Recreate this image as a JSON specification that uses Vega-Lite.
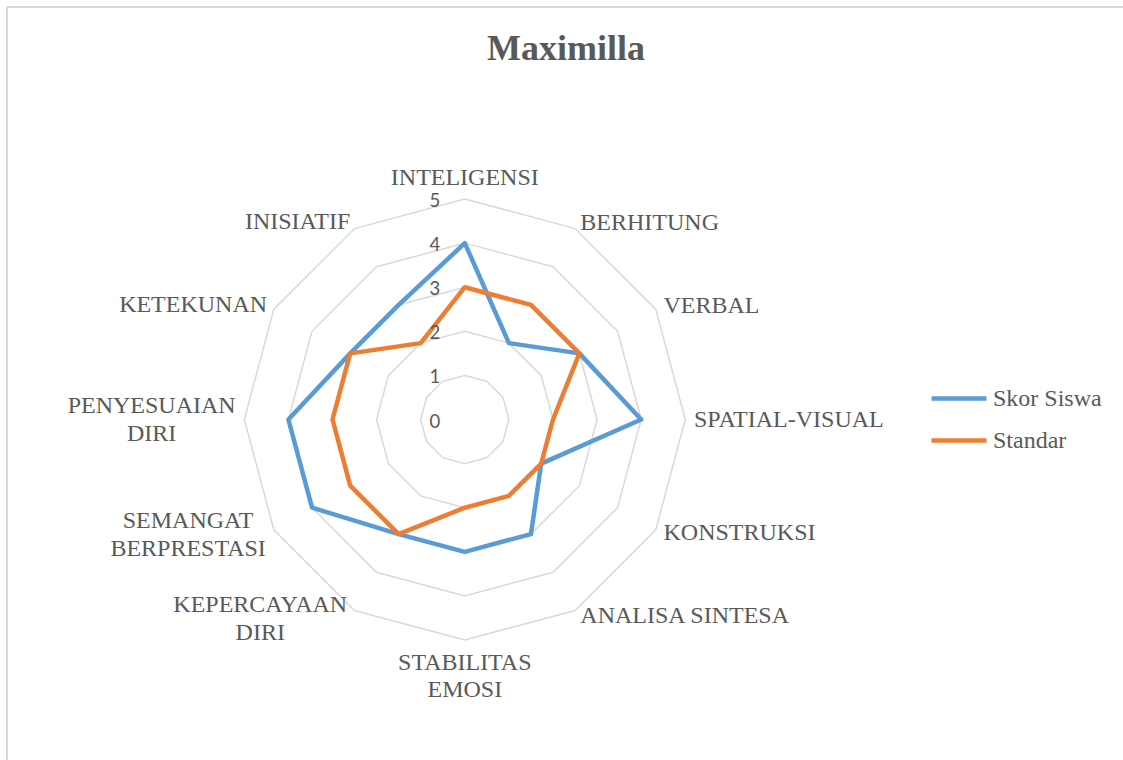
{
  "$schema": "https://vega.github.io/schema/vega-lite/v6.json",
  "autosize": {"type": "none"},
  "padding": {"left": 7, "top": 7, "right": 0, "bottom": 0},
  "width": 1116,
  "height": 753,
  "background": "white",
  "config": {
    "view": {"stroke": "#d9d9d9", "strokeWidth": 2, "strokeDash": [1116, 1869, 753, 0]},
    "legend": {"labelFont": "Liberation Serif", "labelFontSize": 24, "labelColor": "#595959", "symbolType": "stroke", "symbolSize": 3025, "symbolStrokeWidth": 4.5, "labelOffset": 4, "padding": 0}
  },
  "title": {"text": "Maximilla", "font": "Liberation Serif", "fontSize": 36, "fontWeight": "bold", "color": "#595959", "anchor": "start", "frame": "group", "baseline": "alphabetic", "offset": -54, "dy": 35, "dx": 480},
  "data": {"values": [
    {"aspek": "INTELIGENSI", "urut": 0, "Skor Siswa": 4, "Standar": 3},
    {"aspek": "BERHITUNG", "urut": 1, "Skor Siswa": 2, "Standar": 3},
    {"aspek": "VERBAL", "urut": 2, "Skor Siswa": 3, "Standar": 3},
    {"aspek": "SPATIAL-VISUAL", "urut": 3, "Skor Siswa": 4, "Standar": 2},
    {"aspek": "KONSTRUKSI", "urut": 4, "Skor Siswa": 2, "Standar": 2},
    {"aspek": "ANALISA SINTESA", "urut": 5, "Skor Siswa": 3, "Standar": 2},
    {"aspek": "STABILITAS EMOSI", "urut": 6, "Skor Siswa": 3, "Standar": 2},
    {"aspek": "KEPERCAYAAN DIRI", "urut": 7, "Skor Siswa": 3, "Standar": 3},
    {"aspek": "SEMANGAT BERPRESTASI", "urut": 8, "Skor Siswa": 4, "Standar": 3},
    {"aspek": "PENYESUAIAN DIRI", "urut": 9, "Skor Siswa": 4, "Standar": 3},
    {"aspek": "KETEKUNAN", "urut": 10, "Skor Siswa": 3, "Standar": 3},
    {"aspek": "INISIATIF", "urut": 11, "Skor Siswa": 3, "Standar": 2}
  ]},
  "transform": [{"calculate": "datum.urut * PI / 6", "as": "sudut"}],
  "encoding": {
    "x": {"field": "px", "type": "quantitative", "axis": null, "scale": {"domain": [-10.381, 14.925], "nice": false, "zero": false}},
    "y": {"field": "py", "type": "quantitative", "axis": null, "scale": {"domain": [-7.721, 9.354], "nice": false, "zero": false}}
  },
  "layer": [
    {
      "transform": [
        {"calculate": "[1,2,3,4,5]", "as": "tingkat"},
        {"flatten": ["tingkat"]},
        {"calculate": "datum.tingkat * sin(datum.sudut)", "as": "px"},
        {"calculate": "datum.tingkat * cos(datum.sudut)", "as": "py"}
      ],
      "mark": {"type": "line", "interpolate": "linear-closed", "stroke": "#d9d9d9", "strokeWidth": 1.5},
      "encoding": {"detail": {"field": "tingkat", "type": "nominal"}, "order": {"field": "urut", "type": "quantitative"}}
    },
    {
      "transform": [
        {"fold": ["Skor Siswa", "Standar"], "as": ["seri", "nilai"]},
        {"calculate": "datum.nilai * sin(datum.sudut)", "as": "px"},
        {"calculate": "datum.nilai * cos(datum.sudut)", "as": "py"}
      ],
      "mark": {"type": "line", "interpolate": "linear-closed", "strokeWidth": 4.5, "strokeJoin": "round"},
      "encoding": {
        "color": {"field": "seri", "type": "nominal", "scale": {"domain": ["Skor Siswa", "Standar"], "range": ["#5b9bd5", "#ed7d31"]},
          "legend": {"title": null, "orient": "none", "legendX": 922, "legendY": 361.5, "padding": 0, "symbolType": "stroke", "symbolSize": 3025, "symbolStrokeWidth": 4.5, "labelFont": "Liberation Serif", "labelFontSize": 24, "labelColor": "#595959", "labelOffset": 4, "rowPadding": 0}},
        "order": {"field": "urut", "type": "quantitative"}
      }
    },
    {
      "transform": [
        {"filter": "datum.urut == 0"},
        {"calculate": "[0,1,2,3,4,5]", "as": "tingkat"},
        {"flatten": ["tingkat"]},
        {"calculate": "datum.tingkat * sin(datum.sudut)", "as": "px"},
        {"calculate": "datum.tingkat * cos(datum.sudut)", "as": "py"}
      ],
      "mark": {"type": "text", "font": "Lato", "fontSize": 18.5, "color": "#595959", "align": "center", "baseline": "alphabetic", "dx": -30, "dy": 8},
      "encoding": {"text": {"field": "tingkat", "type": "quantitative"}}
    },
    {
      "transform": [
        {"filter": "datum.urut == 0"},
        {"calculate": "5.15 * sin(datum.sudut)", "as": "px"},
        {"calculate": "5.15 * cos(datum.sudut)", "as": "py"}
      ],
      "mark": {"type": "text", "font": "Liberation Serif", "fontSize": 24, "color": "#595959", "align": "center", "baseline": "alphabetic", "dy": -7},
      "encoding": {"text": {"field": "aspek", "type": "nominal"}}
    },
    {
      "transform": [
        {"filter": "datum.urut >= 1 && datum.urut <= 5"},
        {"calculate": "5.15 * sin(datum.sudut)", "as": "px"},
        {"calculate": "5.15 * cos(datum.sudut)", "as": "py"}
      ],
      "mark": {"type": "text", "font": "Liberation Serif", "fontSize": 24, "color": "#595959", "align": "left", "baseline": "alphabetic", "dx": 2, "dy": 7},
      "encoding": {"text": {"field": "aspek", "type": "nominal"}}
    },
    {
      "transform": [
        {"filter": "datum.urut == 6"},
        {"calculate": "5.15 * sin(datum.sudut)", "as": "px"},
        {"calculate": "5.15 * cos(datum.sudut)", "as": "py"}
      ],
      "mark": {"type": "text", "font": "Liberation Serif", "fontSize": 24, "color": "#595959", "align": "center", "baseline": "alphabetic", "dy": 23, "lineBreak": " ", "lineHeight": 27.5},
      "encoding": {"text": {"field": "aspek", "type": "nominal"}}
    },
    {
      "transform": [
        {"filter": "datum.urut == 7"},
        {"calculate": "5.15 * sin(datum.sudut)", "as": "px"},
        {"calculate": "5.15 * cos(datum.sudut)", "as": "py"}
      ],
      "mark": {"type": "text", "font": "Liberation Serif", "fontSize": 24, "color": "#595959", "align": "center", "baseline": "alphabetic", "dx": -91, "dy": -4, "lineBreak": " ", "lineHeight": 27.5},
      "encoding": {"text": {"field": "aspek", "type": "nominal"}}
    },
    {
      "transform": [
        {"filter": "datum.urut == 8"},
        {"calculate": "5.15 * sin(datum.sudut)", "as": "px"},
        {"calculate": "5.15 * cos(datum.sudut)", "as": "py"}
      ],
      "mark": {"type": "text", "font": "Liberation Serif", "fontSize": 24, "color": "#595959", "align": "center", "baseline": "alphabetic", "dx": -80, "dy": -5, "lineBreak": " ", "lineHeight": 27.5},
      "encoding": {"text": {"field": "aspek", "type": "nominal"}}
    },
    {
      "transform": [
        {"filter": "datum.urut == 9"},
        {"calculate": "5.15 * sin(datum.sudut)", "as": "px"},
        {"calculate": "5.15 * cos(datum.sudut)", "as": "py"}
      ],
      "mark": {"type": "text", "font": "Liberation Serif", "fontSize": 24, "color": "#595959", "align": "center", "baseline": "alphabetic", "dx": -86, "dy": -6.5, "lineBreak": " ", "lineHeight": 27.5},
      "encoding": {"text": {"field": "aspek", "type": "nominal"}}
    },
    {
      "transform": [
        {"filter": "datum.urut >= 10"},
        {"calculate": "5.15 * sin(datum.sudut)", "as": "px"},
        {"calculate": "5.15 * cos(datum.sudut)", "as": "py"}
      ],
      "mark": {"type": "text", "font": "Liberation Serif", "fontSize": 24, "color": "#595959", "align": "right", "baseline": "alphabetic", "dx": -1, "dy": 6},
      "encoding": {"text": {"field": "aspek", "type": "nominal"}}
    }
  ]
}
